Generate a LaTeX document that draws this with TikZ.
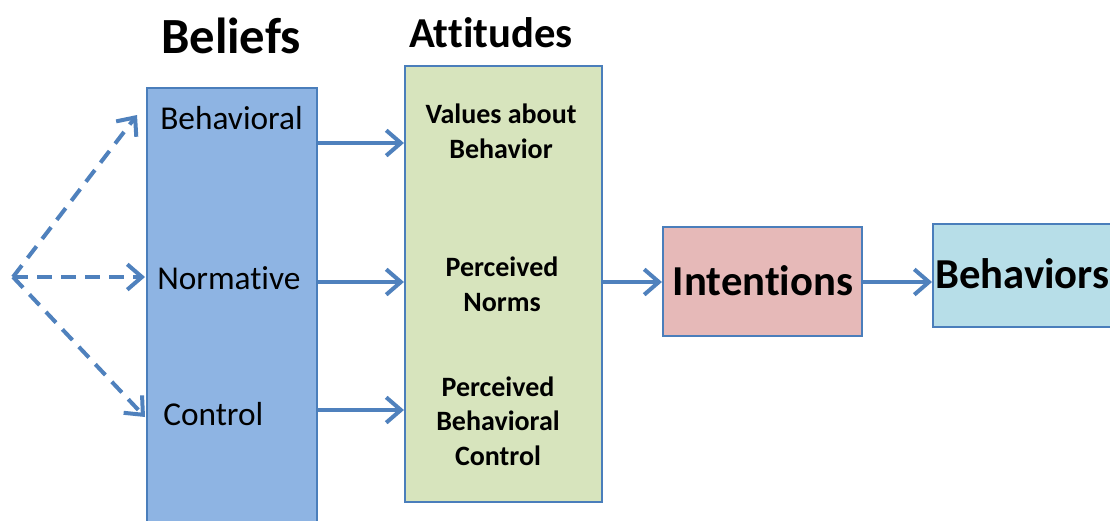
\documentclass[tikz,border=0pt]{standalone}
\usepackage{fontspec}
\setmainfont{Carlito}[Ligatures=NoCommon]
\usetikzlibrary{arrows.meta}
\definecolor{edge}{HTML}{4A7EBB}
\definecolor{arr}{HTML}{4F81BD}
\definecolor{belfill}{HTML}{8EB4E3}
\definecolor{attfill}{HTML}{D7E4BD}
\definecolor{intfill}{HTML}{E6B9B8}
\definecolor{behfill}{HTML}{B7DEE8}
\tikzset{
  box/.style={draw=edge, line width=1.6pt, inner sep=0pt},
  conn/.style={draw=arr, line width=3pt, -{Straight Barb[length=11pt,width=19pt,line width=3pt]}},
  dconn/.style={conn, dash pattern=on 11pt off 7pt},
  lbl/.style={font=\fontsize{25}{28}\selectfont, text=black, inner sep=0pt},
  att/.style={font=\bfseries\fontsize{21}{26}\selectfont, text=black, align=center, inner sep=0pt},
}
\begin{document}
\begin{tikzpicture}[x=0.75pt,y=-0.75pt]
\useasboundingbox (0,0) rectangle (1110,521);
\fill[white] (0,0) rectangle (1110,521);
% boxes
\node[box, fill=belfill, minimum width=170*0.75pt, minimum height=452*0.75pt] (bel) at (232,314) {};
\node[box, fill=attfill, minimum width=197*0.75pt, minimum height=436*0.75pt] (att) at (503.5,284) {};
\node[box, fill=intfill, minimum width=199*0.75pt, minimum height=109*0.75pt] (int) at (762.5,281.5) {};
\node[box, fill=behfill, minimum width=200*0.75pt, minimum height=103*0.75pt, anchor=west] (beh) at (932,275.5) {};
% titles
\node[font=\bfseries\fontsize{38}{40}\selectfont, inner sep=0pt] (tbel) at (231,36) {Beliefs};
\node[font=\bfseries\fontsize{32}{34}\selectfont, inner sep=0pt] (tatt) at (491,33) {Attitudes};
% belief labels
\node[lbl, anchor=west] (lb1) at (160,118) {Behavioral};
\node[lbl, anchor=west] (lb2) at (157,278) {Normative};
\node[lbl, anchor=west] (lb3) at (163,414) {Control};
% attitude labels
\node[att] (la1) at (501,131) {Values about\\Behavior};
\node[att] (la2) at (502,284) {Perceived\\Norms};
\node[att] (la3) at (498,421) {Perceived\\Behavioral\\Control};
% box labels
\node[font=\bfseries\fontsize{32}{34}\selectfont, inner sep=0pt] (lint) at (763,281) {Intentions};
\node[font=\bfseries\fontsize{32}{34}\selectfont, inner sep=0pt, anchor=west] (lbeh) at (935,274) {Behaviors};
% coordinates
\coordinate (o) at (13,277);
\coordinate (d1) at (137,115);
\coordinate (d2) at (145,277);
\coordinate (d3) at (145,417);
\coordinate (s1) at (bel.east |- 0,143);
\coordinate (s2) at (bel.east |- 0,282);
\coordinate (s3) at (bel.east |- 0,410);
\coordinate (t1) at (att.west |- 0,143);
\coordinate (t2) at (att.west |- 0,282);
\coordinate (t3) at (att.west |- 0,410);
\coordinate (a2) at (att.east |- 0,282);
\coordinate (i2) at (int.west |- 0,282);
\coordinate (i3) at (int.east |- 0,282);
\coordinate (b2) at (beh.west |- 0,282);
% connectors
\draw[dconn] (o) -- (d1);
\draw[dconn] (o) -- (d2);
\draw[dconn] (o) -- (d3);
\draw[conn] (s1) -- (t1);
\draw[conn] (s2) -- (t2);
\draw[conn] (s3) -- (t3);
\draw[conn] (a2) -- (i2);
\draw[conn] (i3) -- (b2);
\end{tikzpicture}
\end{document}
